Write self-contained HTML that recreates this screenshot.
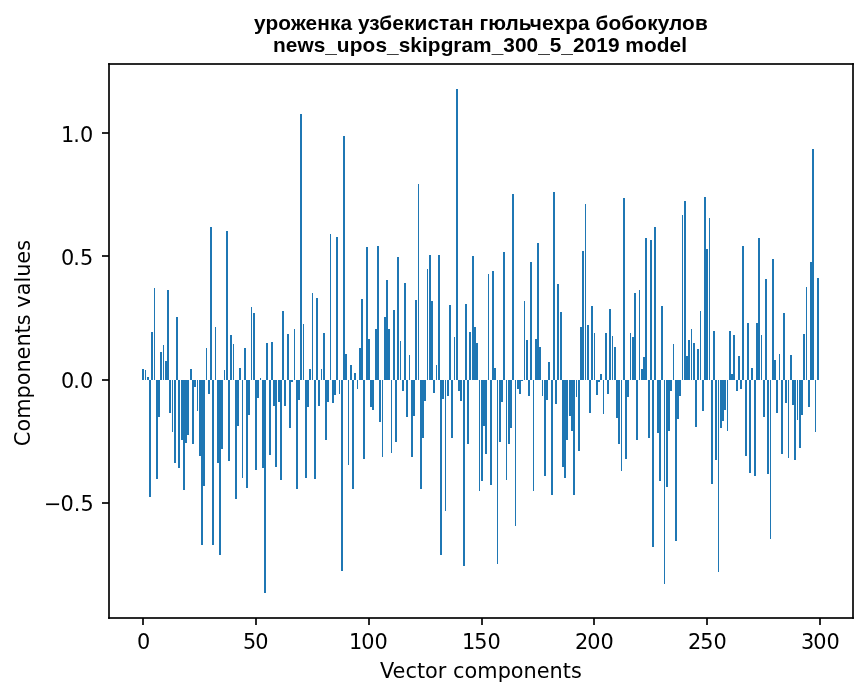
<!DOCTYPE html>
<html lang="ru">
<head>
<meta charset="utf-8">
<title>уроженка узбекистан гюльчехра бобокулов — news_upos_skipgram_300_5_2019 model</title>
<style>
html,body{margin:0;padding:0;background:#fff;}
body{width:867px;height:696px;overflow:hidden;}
svg{display:block;position:absolute;left:0;top:0;}
text{font-family:"DejaVu Sans","Liberation Sans",sans-serif;font-size:20.8333px;fill:#000;}
text.t{font-family:"Liberation Sans","DejaVu Sans",sans-serif;font-weight:bold;font-size:20.8333px;}
</style>
</head>
<body>
<svg width="867" height="696" viewBox="0 0 867 696">
<rect x="0" y="0" width="867" height="696" fill="#ffffff"/>
<g fill="#1f77b4" shape-rendering="crispEdges"><rect x="142" y="369" width="2" height="11"/><rect x="145" y="370" width="1" height="10"/><rect x="147" y="377" width="2" height="3"/><rect x="149" y="380" width="2" height="117"/><rect x="151" y="332" width="2" height="48"/><rect x="154" y="288" width="1" height="92"/><rect x="156" y="380" width="2" height="99"/><rect x="158" y="380" width="2" height="37"/><rect x="160" y="352" width="2" height="28"/><rect x="163" y="345" width="1" height="35"/><rect x="165" y="361" width="2" height="19"/><rect x="167" y="290" width="2" height="90"/><rect x="169" y="380" width="2" height="33"/><rect x="172" y="380" width="1" height="52"/><rect x="174" y="380" width="2" height="83"/><rect x="176" y="317" width="2" height="63"/><rect x="178" y="380" width="2" height="88"/><rect x="181" y="380" width="2" height="60"/><rect x="183" y="380" width="2" height="110"/><rect x="185" y="380" width="2" height="63"/><rect x="187" y="380" width="2" height="55"/><rect x="190" y="369" width="2" height="11"/><rect x="192" y="380" width="2" height="64"/><rect x="194" y="380" width="2" height="7"/><rect x="197" y="380" width="1" height="31"/><rect x="199" y="380" width="2" height="76"/><rect x="201" y="380" width="2" height="165"/><rect x="203" y="380" width="2" height="106"/><rect x="206" y="348" width="1" height="32"/><rect x="208" y="380" width="2" height="14"/><rect x="210" y="227" width="2" height="153"/><rect x="212" y="380" width="2" height="165"/><rect x="215" y="327" width="1" height="53"/><rect x="217" y="380" width="2" height="83"/><rect x="219" y="380" width="2" height="175"/><rect x="221" y="380" width="2" height="69"/><rect x="224" y="370" width="1" height="10"/><rect x="226" y="231" width="2" height="149"/><rect x="228" y="380" width="2" height="81"/><rect x="230" y="335" width="2" height="45"/><rect x="233" y="344" width="1" height="36"/><rect x="235" y="380" width="2" height="119"/><rect x="237" y="380" width="2" height="46"/><rect x="239" y="368" width="2" height="12"/><rect x="242" y="380" width="1" height="98"/><rect x="244" y="348" width="2" height="32"/><rect x="246" y="380" width="2" height="108"/><rect x="248" y="380" width="2" height="35"/><rect x="251" y="307" width="1" height="73"/><rect x="253" y="313" width="2" height="67"/><rect x="255" y="380" width="2" height="90"/><rect x="257" y="380" width="2" height="18"/><rect x="260" y="378" width="1" height="2"/><rect x="262" y="380" width="2" height="88"/><rect x="264" y="380" width="2" height="213"/><rect x="266" y="343" width="2" height="37"/><rect x="269" y="380" width="2" height="75"/><rect x="271" y="342" width="2" height="38"/><rect x="273" y="380" width="2" height="26"/><rect x="275" y="380" width="2" height="87"/><rect x="278" y="380" width="2" height="22"/><rect x="280" y="380" width="2" height="100"/><rect x="282" y="311" width="2" height="69"/><rect x="284" y="380" width="2" height="26"/><rect x="287" y="334" width="2" height="46"/><rect x="289" y="380" width="2" height="48"/><rect x="291" y="380" width="2" height="2"/><rect x="294" y="329" width="1" height="51"/><rect x="296" y="380" width="2" height="109"/><rect x="298" y="380" width="2" height="20"/><rect x="300" y="114" width="2" height="266"/><rect x="303" y="324" width="1" height="56"/><rect x="305" y="380" width="2" height="98"/><rect x="307" y="380" width="2" height="27"/><rect x="309" y="369" width="2" height="11"/><rect x="312" y="293" width="1" height="87"/><rect x="314" y="380" width="2" height="99"/><rect x="316" y="298" width="2" height="82"/><rect x="318" y="380" width="2" height="26"/><rect x="321" y="369" width="1" height="11"/><rect x="323" y="333" width="2" height="47"/><rect x="325" y="380" width="2" height="60"/><rect x="327" y="380" width="2" height="22"/><rect x="330" y="234" width="1" height="146"/><rect x="332" y="380" width="2" height="23"/><rect x="334" y="380" width="2" height="15"/><rect x="336" y="237" width="2" height="143"/><rect x="339" y="380" width="1" height="14"/><rect x="341" y="380" width="2" height="191"/><rect x="343" y="136" width="2" height="244"/><rect x="345" y="354" width="2" height="26"/><rect x="348" y="380" width="1" height="85"/><rect x="350" y="365" width="2" height="15"/><rect x="352" y="380" width="2" height="109"/><rect x="354" y="373" width="2" height="7"/><rect x="357" y="380" width="1" height="9"/><rect x="359" y="348" width="2" height="32"/><rect x="361" y="299" width="2" height="81"/><rect x="363" y="380" width="2" height="79"/><rect x="366" y="247" width="2" height="133"/><rect x="368" y="339" width="2" height="41"/><rect x="370" y="380" width="2" height="27"/><rect x="372" y="380" width="2" height="30"/><rect x="375" y="329" width="2" height="51"/><rect x="377" y="246" width="2" height="134"/><rect x="379" y="380" width="2" height="42"/><rect x="382" y="380" width="1" height="77"/><rect x="384" y="317" width="2" height="63"/><rect x="386" y="280" width="2" height="100"/><rect x="388" y="329" width="2" height="51"/><rect x="391" y="380" width="1" height="73"/><rect x="393" y="310" width="2" height="70"/><rect x="395" y="380" width="2" height="62"/><rect x="397" y="257" width="2" height="123"/><rect x="400" y="341" width="1" height="39"/><rect x="402" y="380" width="2" height="11"/><rect x="404" y="283" width="2" height="97"/><rect x="406" y="380" width="2" height="37"/><rect x="409" y="355" width="1" height="25"/><rect x="411" y="380" width="2" height="77"/><rect x="413" y="380" width="2" height="36"/><rect x="415" y="300" width="2" height="80"/><rect x="418" y="184" width="1" height="196"/><rect x="420" y="380" width="2" height="109"/><rect x="422" y="380" width="2" height="58"/><rect x="424" y="380" width="2" height="21"/><rect x="427" y="269" width="1" height="111"/><rect x="429" y="255" width="2" height="125"/><rect x="431" y="301" width="2" height="79"/><rect x="433" y="380" width="2" height="13"/><rect x="436" y="365" width="1" height="15"/><rect x="438" y="255" width="2" height="125"/><rect x="440" y="380" width="2" height="175"/><rect x="442" y="380" width="2" height="19"/><rect x="445" y="380" width="1" height="131"/><rect x="447" y="380" width="2" height="16"/><rect x="449" y="305" width="2" height="75"/><rect x="451" y="380" width="2" height="58"/><rect x="454" y="337" width="1" height="43"/><rect x="456" y="89" width="2" height="291"/><rect x="458" y="380" width="2" height="11"/><rect x="460" y="380" width="2" height="21"/><rect x="463" y="380" width="2" height="186"/><rect x="465" y="304" width="2" height="76"/><rect x="467" y="380" width="2" height="64"/><rect x="469" y="332" width="2" height="48"/><rect x="472" y="256" width="2" height="124"/><rect x="474" y="327" width="2" height="53"/><rect x="476" y="343" width="2" height="37"/><rect x="479" y="380" width="1" height="111"/><rect x="481" y="380" width="2" height="101"/><rect x="483" y="380" width="2" height="46"/><rect x="485" y="380" width="2" height="74"/><rect x="488" y="274" width="1" height="106"/><rect x="490" y="380" width="2" height="105"/><rect x="492" y="271" width="2" height="109"/><rect x="494" y="368" width="2" height="12"/><rect x="497" y="380" width="1" height="184"/><rect x="499" y="380" width="2" height="62"/><rect x="501" y="380" width="2" height="22"/><rect x="503" y="252" width="2" height="128"/><rect x="506" y="380" width="1" height="100"/><rect x="508" y="380" width="2" height="64"/><rect x="510" y="380" width="2" height="48"/><rect x="512" y="194" width="2" height="186"/><rect x="515" y="380" width="1" height="146"/><rect x="517" y="380" width="2" height="9"/><rect x="519" y="380" width="2" height="14"/><rect x="521" y="380" width="2" height="1"/><rect x="524" y="301" width="1" height="79"/><rect x="526" y="340" width="2" height="40"/><rect x="528" y="380" width="2" height="16"/><rect x="530" y="262" width="2" height="118"/><rect x="533" y="380" width="1" height="111"/><rect x="535" y="339" width="2" height="41"/><rect x="537" y="243" width="2" height="137"/><rect x="539" y="347" width="2" height="33"/><rect x="542" y="380" width="1" height="16"/><rect x="544" y="380" width="2" height="96"/><rect x="546" y="380" width="2" height="20"/><rect x="548" y="362" width="2" height="18"/><rect x="551" y="380" width="2" height="115"/><rect x="553" y="192" width="2" height="188"/><rect x="555" y="380" width="2" height="24"/><rect x="557" y="284" width="2" height="96"/><rect x="560" y="312" width="2" height="68"/><rect x="562" y="380" width="2" height="87"/><rect x="564" y="380" width="2" height="98"/><rect x="566" y="380" width="2" height="60"/><rect x="569" y="380" width="2" height="36"/><rect x="571" y="380" width="2" height="51"/><rect x="573" y="380" width="2" height="115"/><rect x="576" y="380" width="1" height="17"/><rect x="578" y="380" width="2" height="71"/><rect x="580" y="327" width="2" height="53"/><rect x="582" y="251" width="2" height="129"/><rect x="585" y="204" width="1" height="176"/><rect x="587" y="325" width="2" height="55"/><rect x="589" y="380" width="2" height="33"/><rect x="591" y="306" width="2" height="74"/><rect x="594" y="333" width="1" height="47"/><rect x="596" y="380" width="2" height="15"/><rect x="598" y="380" width="2" height="2"/><rect x="600" y="374" width="2" height="6"/><rect x="603" y="380" width="1" height="34"/><rect x="605" y="333" width="2" height="47"/><rect x="607" y="380" width="2" height="14"/><rect x="609" y="309" width="2" height="71"/><rect x="612" y="336" width="1" height="44"/><rect x="614" y="347" width="2" height="33"/><rect x="616" y="380" width="2" height="38"/><rect x="618" y="380" width="2" height="64"/><rect x="621" y="380" width="1" height="91"/><rect x="623" y="198" width="2" height="182"/><rect x="625" y="380" width="2" height="79"/><rect x="627" y="380" width="2" height="17"/><rect x="630" y="333" width="1" height="47"/><rect x="632" y="337" width="2" height="43"/><rect x="634" y="293" width="2" height="87"/><rect x="636" y="380" width="2" height="60"/><rect x="639" y="290" width="1" height="90"/><rect x="641" y="369" width="2" height="11"/><rect x="643" y="357" width="2" height="23"/><rect x="645" y="238" width="2" height="142"/><rect x="648" y="380" width="2" height="58"/><rect x="650" y="240" width="2" height="140"/><rect x="652" y="380" width="2" height="167"/><rect x="654" y="227" width="2" height="153"/><rect x="657" y="380" width="2" height="53"/><rect x="659" y="380" width="2" height="101"/><rect x="661" y="306" width="2" height="74"/><rect x="664" y="380" width="1" height="204"/><rect x="666" y="380" width="2" height="107"/><rect x="668" y="380" width="2" height="51"/><rect x="670" y="380" width="2" height="11"/><rect x="673" y="344" width="1" height="36"/><rect x="675" y="380" width="2" height="161"/><rect x="677" y="380" width="2" height="39"/><rect x="679" y="380" width="2" height="16"/><rect x="682" y="215" width="1" height="165"/><rect x="684" y="201" width="2" height="179"/><rect x="686" y="356" width="2" height="24"/><rect x="688" y="340" width="2" height="40"/><rect x="691" y="329" width="1" height="51"/><rect x="693" y="343" width="2" height="37"/><rect x="695" y="380" width="2" height="47"/><rect x="697" y="349" width="2" height="31"/><rect x="700" y="311" width="1" height="69"/><rect x="702" y="380" width="2" height="31"/><rect x="704" y="197" width="2" height="183"/><rect x="706" y="249" width="2" height="131"/><rect x="709" y="218" width="1" height="162"/><rect x="711" y="380" width="2" height="104"/><rect x="713" y="331" width="2" height="49"/><rect x="715" y="380" width="2" height="80"/><rect x="718" y="380" width="1" height="192"/><rect x="720" y="380" width="2" height="48"/><rect x="722" y="380" width="2" height="41"/><rect x="724" y="380" width="2" height="30"/><rect x="727" y="380" width="1" height="51"/><rect x="729" y="331" width="2" height="49"/><rect x="731" y="374" width="2" height="6"/><rect x="733" y="335" width="2" height="45"/><rect x="736" y="380" width="2" height="11"/><rect x="738" y="356" width="2" height="24"/><rect x="740" y="380" width="2" height="9"/><rect x="742" y="246" width="2" height="134"/><rect x="745" y="380" width="2" height="76"/><rect x="747" y="323" width="2" height="57"/><rect x="749" y="380" width="2" height="93"/><rect x="751" y="368" width="2" height="12"/><rect x="754" y="380" width="2" height="96"/><rect x="756" y="323" width="2" height="57"/><rect x="758" y="238" width="2" height="142"/><rect x="761" y="335" width="1" height="45"/><rect x="763" y="380" width="2" height="37"/><rect x="765" y="279" width="2" height="101"/><rect x="767" y="380" width="2" height="94"/><rect x="770" y="380" width="1" height="159"/><rect x="772" y="259" width="2" height="121"/><rect x="774" y="360" width="2" height="20"/><rect x="776" y="380" width="2" height="33"/><rect x="779" y="354" width="1" height="26"/><rect x="781" y="380" width="2" height="74"/><rect x="783" y="313" width="2" height="67"/><rect x="785" y="380" width="2" height="23"/><rect x="788" y="380" width="1" height="78"/><rect x="790" y="355" width="2" height="25"/><rect x="792" y="380" width="2" height="25"/><rect x="794" y="380" width="2" height="80"/><rect x="797" y="380" width="1" height="40"/><rect x="799" y="380" width="2" height="68"/><rect x="801" y="380" width="2" height="35"/><rect x="803" y="334" width="2" height="46"/><rect x="806" y="287" width="1" height="93"/><rect x="808" y="380" width="2" height="27"/><rect x="810" y="262" width="2" height="118"/><rect x="812" y="149" width="2" height="231"/><rect x="815" y="380" width="1" height="52"/><rect x="817" y="278" width="2" height="102"/></g>
<g fill="#2a2a2a" shape-rendering="crispEdges"><rect x="108" y="63" width="746" height="2"/><rect x="108" y="617" width="746" height="2"/><rect x="108" y="63" width="2" height="556"/><rect x="852" y="63" width="2" height="556"/><rect x="142" y="619" width="2" height="6"/><rect x="255" y="619" width="2" height="6"/><rect x="368" y="619" width="2" height="6"/><rect x="481" y="619" width="2" height="6"/><rect x="593" y="619" width="2" height="6"/><rect x="706" y="619" width="2" height="6"/><rect x="819" y="619" width="2" height="6"/><rect x="102" y="132" width="6" height="2"/><rect x="102" y="255" width="6" height="2"/><rect x="102" y="379" width="6" height="2"/><rect x="102" y="502" width="6" height="2"/><rect x="108" y="63" width="1" height="1" fill="#171717"/><rect x="109" y="63" width="1" height="1" fill="#0c0c0c"/><rect x="852" y="63" width="1" height="1" fill="#0c0c0c"/><rect x="853" y="63" width="1" height="1" fill="#171717"/><rect x="108" y="64" width="1" height="1" fill="#0c0c0c"/><rect x="109" y="64" width="1" height="1" fill="#070707"/><rect x="852" y="64" width="1" height="1" fill="#070707"/><rect x="853" y="64" width="1" height="1" fill="#0c0c0c"/><rect x="108" y="132" width="1" height="1" fill="#070707"/><rect x="108" y="133" width="1" height="1" fill="#070707"/><rect x="108" y="255" width="1" height="1" fill="#070707"/><rect x="108" y="256" width="1" height="1" fill="#070707"/><rect x="108" y="379" width="1" height="1" fill="#070707"/><rect x="108" y="380" width="1" height="1" fill="#070707"/><rect x="108" y="502" width="1" height="1" fill="#070707"/><rect x="108" y="503" width="1" height="1" fill="#070707"/><rect x="108" y="617" width="1" height="1" fill="#0c0c0c"/><rect x="109" y="617" width="1" height="1" fill="#070707"/><rect x="852" y="617" width="1" height="1" fill="#070707"/><rect x="853" y="617" width="1" height="1" fill="#0c0c0c"/><rect x="108" y="618" width="1" height="1" fill="#171717"/><rect x="109" y="618" width="1" height="1" fill="#0c0c0c"/><rect x="142" y="618" width="1" height="1" fill="#070707"/><rect x="143" y="618" width="1" height="1" fill="#070707"/><rect x="255" y="618" width="1" height="1" fill="#070707"/><rect x="256" y="618" width="1" height="1" fill="#070707"/><rect x="368" y="618" width="1" height="1" fill="#070707"/><rect x="369" y="618" width="1" height="1" fill="#070707"/><rect x="481" y="618" width="1" height="1" fill="#070707"/><rect x="482" y="618" width="1" height="1" fill="#070707"/><rect x="593" y="618" width="1" height="1" fill="#070707"/><rect x="594" y="618" width="1" height="1" fill="#070707"/><rect x="706" y="618" width="1" height="1" fill="#070707"/><rect x="707" y="618" width="1" height="1" fill="#070707"/><rect x="819" y="618" width="1" height="1" fill="#070707"/><rect x="820" y="618" width="1" height="1" fill="#070707"/><rect x="852" y="618" width="1" height="1" fill="#0c0c0c"/><rect x="853" y="618" width="1" height="1" fill="#171717"/></g>
<g><text x="137.12" y="648.5">0</text>
<text x="242.89 255.28" y="648.5">50</text>
<text x="348.92 361.17 374.42" y="648.5">100</text>
<text x="461.92 474.17 487.42" y="648.5">150</text>
<text x="574.92 587.17 600.42" y="648.5">200</text>
<text x="687.92 700.17 713.42" y="648.5">250</text>
<text x="800.92 813.17 826.42" y="648.5">300</text>
<text x="60.92 73.31 80.09" y="142">1.0</text>
<text x="60.88 73.37 79.98" y="265">0.5</text>
<text x="60.92 73.31 80.09" y="388">0.0</text>
<text x="43.96 60.6 73.8 80.38" y="511">−0.5</text>
<text x="380.06 392.44 405.5 416.95 424.88 437.86 446.42 453.05 464.5 477.24 497.63 510.75 523.49 536.69 549.5 562.7 570.88" y="678">Vector components</text>
<text transform="translate(30,343) rotate(-90)" x="-103.32 -88.54 -75.79 -55.51 -42.29 -29.54 -16.59 -3.52 9.43 17.84 28.7 35.32 47.65 60.4 66.2 79.15 92.21" y="0">Components values</text>
<text class="t" x="253.94 265.58 278.14 290.92 305.52 317.19 329.96 340.38 352.05 357.92 369.31 379.25 392.2 403.88 414.39 427.38 438.95 449.25 460.92 473.59 479.47 488.23 505.59 518.66 529.72 541.91 553.55 565.23 578.05 589.72 595.59 608.55 621.36 634.31 647.22 657.64 669.05 682.08 694.91" y="30">уроженка узбекистан гюльчехра бобокулов</text>
<text class="t" x="272.97 285.75 297.39 313.64 325.3 336.69 349.72 362.5 375.38 386.92 398.68 410.22 421.96 427.7 440.73 453.26 461.44 473.08 491.65 503.3 514.95 526.59 538.23 549.87 561.26 572.9 584.81 596.2 608.09 619.73 625.33 643.92 656.7 669.48 681.37" y="52">news_upos_skipgram_300_5_2019 model</text>
</g>
</svg>
</body>
</html>
